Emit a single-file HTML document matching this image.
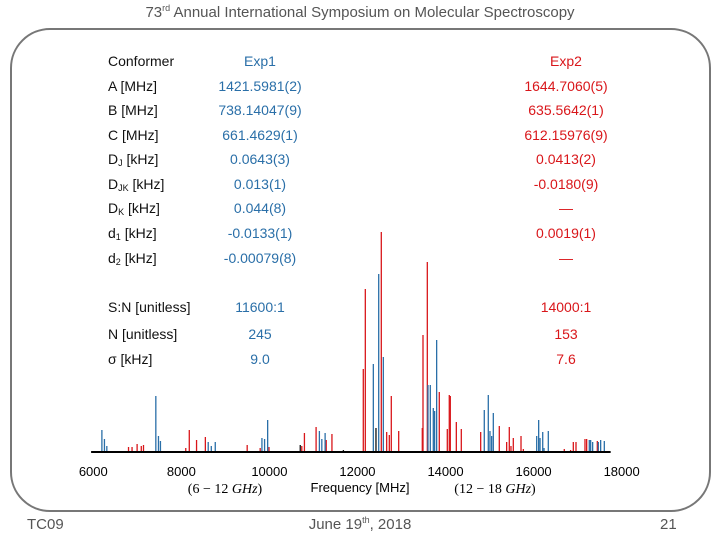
<!DOCTYPE html>
<html><head><meta charset="utf-8">
<style>
body{margin:0;background:#fff;}
#slide{position:relative;width:720px;height:540px;overflow:hidden;font-family:"Liberation Sans",sans-serif;}
.t{position:absolute;white-space:nowrap;font-size:14px;line-height:16px;}
.lab{color:#111;left:108px;}
.b{color:#2a6fa8;transform:translateX(-50%);}
.r{color:#d9161a;transform:translateX(-50%);}
sub{font-size:9px;vertical-align:-2px;line-height:0;}
sup{line-height:0;}
</style></head><body>
<div id="slide">
<div class="t" style="left:360px;top:5px;transform:translateX(-50%);font-size:15px;color:#555;">73<sup style="font-size:9px">rd</sup> Annual International Symposium on Molecular Spectroscopy</div>
<div style="position:absolute;left:10px;top:28px;width:701px;height:484px;border:2.5px solid #777;border-radius:40px;box-sizing:border-box;"></div>

<div>
<div class="t lab" style="top:53px">Conformer</div><div class="t b" style="left:260px;top:53px">Exp1</div><div class="t r" style="left:566px;top:53px">Exp2</div>
<div class="t lab" style="top:78px">A [MHz]</div><div class="t b" style="left:260px;top:78px">1421.5981(2)</div><div class="t r" style="left:566px;top:78px">1644.7060(5)</div>
<div class="t lab" style="top:102px">B [MHz]</div><div class="t b" style="left:260px;top:102px">738.14047(9)</div><div class="t r" style="left:566px;top:102px">635.5642(1)</div>
<div class="t lab" style="top:127px">C [MHz]</div><div class="t b" style="left:260px;top:127px">661.4629(1)</div><div class="t r" style="left:566px;top:127px">612.15976(9)</div>
<div class="t lab" style="top:151px">D<sub>J</sub> [kHz]</div><div class="t b" style="left:260px;top:151px">0.0643(3)</div><div class="t r" style="left:566px;top:151px">0.0413(2)</div>
<div class="t lab" style="top:176px">D<sub>JK</sub> [kHz]</div><div class="t b" style="left:260px;top:176px">0.013(1)</div><div class="t r" style="left:566px;top:176px">-0.0180(9)</div>
<div class="t lab" style="top:200px">D<sub>K</sub> [kHz]</div><div class="t b" style="left:260px;top:200px">0.044(8)</div><div class="t r" style="left:566px;top:200px">—</div>
<div class="t lab" style="top:225px">d<sub>1</sub> [kHz]</div><div class="t b" style="left:260px;top:225px">-0.0133(1)</div><div class="t r" style="left:566px;top:225px">0.0019(1)</div>
<div class="t lab" style="top:250px">d<sub>2</sub> [kHz]</div><div class="t b" style="left:260px;top:250px">-0.00079(8)</div><div class="t r" style="left:566px;top:250px">—</div>
<div class="t lab" style="top:299px">S:N [unitless]</div><div class="t b" style="left:260px;top:299px">11600:1</div><div class="t r" style="left:566px;top:299px">14000:1</div>
<div class="t lab" style="top:326px">N [unitless]</div><div class="t b" style="left:260px;top:326px">245</div><div class="t r" style="left:566px;top:326px">153</div>
<div class="t lab" style="top:351px">σ [kHz]</div><div class="t b" style="left:260px;top:351px">9.0</div><div class="t r" style="left:566px;top:351px">7.6</div>
</div>

<svg id="chart" width="720" height="540" style="position:absolute;left:0;top:0;"></svg>

<div class="t" style="left:225px;top:482px;transform:translateX(-50%);font-family:'Liberation Serif',serif;font-size:14px;">(6 − 12 <i>GHz</i>)</div>
<div class="t" style="left:360px;top:480px;transform:translateX(-50%);font-size:13px;">Frequency [MHz]</div>
<div class="t" style="left:495px;top:482px;transform:translateX(-50%);font-family:'Liberation Serif',serif;font-size:14px;">(12 − 18 <i>GHz</i>)</div>

<div class="t" style="left:27px;top:517px;font-size:15px;color:#555;">TC09</div>
<div class="t" style="left:360px;top:517px;transform:translateX(-50%);font-size:15px;color:#555;">June 19<sup style="font-size:9px">th</sup>, 2018</div>
<div class="t" style="left:660px;top:517px;font-size:15px;color:#555;">21</div>
</div>
<script>
const xTicks=[6000,8000,10000,12000,14000,16000,18000];
const blueFreq=[6195,6253,6307,7420,7480,7525,8610,8680,8770,9830,9890,9960,11135,11190,11265,12360,12482,12587,13601,13654,13722,13752,13798,14880,14971,15009,15047,15085,16070,16115,16146,16207,16237,16334,17265,17296,17341,17470,17523,17606];
const blueInt=[22,13,6,56,16,11,10,6,10,14,13,32,21,13,19,88,178,95,67,67,44,41,112,42,57,21,16,39,16,32,14,20,4,21,12,12,10,10,12,11];
const redFreq=[6800,6880,6995,7090,7140,8100,8180,8345,8545,9495,9790,9990,10735,10795,11060,11290,11420,12132,12178,12541,12663,12723,12768,12936,13472,13488,13586,13858,14040,14085,14108,14245,14358,14798,15221,15388,15448,15486,15539,15714,15767,16697,16840,16902,16963,17167,17205,17447];
const redInt=[5,5,8,6,7,4,22,12,15,7,4,5,6,19,25,12,18,83,163,220,20,17,56,21,24,117,190,60,23,57,56,30,23,20,26,10,25,6,14,16,3,3,2,10,10,13,13,11];
const blackFreq=[10700,11680,12420];
const blackInt=[7,2,24];
const svg=document.getElementById('chart');
const NS='http://www.w3.org/2000/svg';
const x0=93.3,sc=0.04403,base=452;
function xs(f){return x0+(f-6000)*sc;}
function ys(v){return base-v;}
function line(x1,y1,x2,y2,c,w){const l=document.createElementNS(NS,'line');l.setAttribute('x1',x1);l.setAttribute('y1',y1);l.setAttribute('x2',x2);l.setAttribute('y2',y2);l.setAttribute('stroke',c);l.setAttribute('stroke-width',w);svg.appendChild(l);return l;}
function series(fr,it,c,name){fr.forEach((f,i)=>{const l=line(xs(f),ys(0),xs(f),ys(it[i]),c,1.3);

});}
series(redFreq,redInt,'#d9161a','red-peak');
series(blueFreq,blueInt,'#2a6fa8','blue-peak');
series(blackFreq,blackInt,'#111','black-peak');
const ax=line(xs(5950),base,xs(17750),base,'#000',2);


xTicks.forEach(t=>{const tx=document.createElementNS(NS,'text');tx.setAttribute('x',xs(t));tx.setAttribute('y',476);tx.setAttribute('text-anchor','middle');tx.setAttribute('font-family','Liberation Sans, sans-serif');tx.setAttribute('font-size','13');tx.textContent=t;


svg.appendChild(tx);});
</script>
</body></html>
